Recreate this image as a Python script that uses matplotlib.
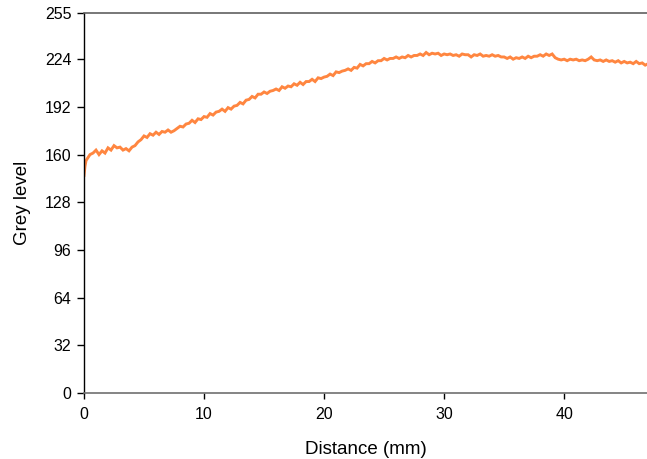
import matplotlib
matplotlib.use("Agg")
import matplotlib.pyplot as plt

plt.rcParams['font.family'] = ['Liberation Sans', 'DejaVu Sans']

distance_mm = [
    0.0, 0.08, 0.17, 0.25, 0.5, 0.75, 1.0, 1.25, 1.5, 1.75,
    2.0, 2.25, 2.5, 2.75, 3.0, 3.25, 3.5, 3.75, 4.0, 4.25,
    4.5, 4.75, 5.0, 5.25, 5.5, 5.75, 6.0, 6.25, 6.5, 6.75,
    7.0, 7.25, 7.5, 7.75, 8.0, 8.25, 8.5, 8.75, 9.0, 9.25,
    9.5, 9.75, 10.0, 10.25, 10.5, 10.75, 11.0, 11.25, 11.5, 11.75,
    12.0, 12.25, 12.5, 12.75, 13.0, 13.25, 13.5, 13.75, 14.0, 14.25,
    14.5, 14.75, 15.0, 15.25, 15.5, 15.75, 16.0, 16.25, 16.5, 16.75,
    17.0, 17.25, 17.5, 17.75, 18.0, 18.25, 18.5, 18.75, 19.0, 19.25,
    19.5, 19.75, 20.0, 20.25, 20.5, 20.75, 21.0, 21.25, 21.5, 21.75,
    22.0, 22.25, 22.5, 22.75, 23.0, 23.25, 23.5, 23.75, 24.0, 24.25,
    24.5, 24.75, 25.0, 25.25, 25.5, 25.75, 26.0, 26.25, 26.5, 26.75,
    27.0, 27.25, 27.5, 27.75, 28.0, 28.25, 28.5, 28.75, 29.0, 29.25,
    29.5, 29.75, 30.0, 30.25, 30.5, 30.75, 31.0, 31.25, 31.5, 31.75,
    32.0, 32.25, 32.5, 32.75, 33.0, 33.25, 33.5, 33.75, 34.0, 34.25,
    34.5, 34.75, 35.0, 35.25, 35.5, 35.75, 36.0, 36.25, 36.5, 36.75,
    37.0, 37.25, 37.5, 37.75, 38.0, 38.25, 38.5, 38.75, 39.0, 39.25,
    39.5, 39.75, 40.0, 40.25, 40.5, 40.75, 41.0, 41.25, 41.5, 41.75,
    42.0, 42.25, 42.5, 42.75, 43.0, 43.25, 43.5, 43.75, 44.0, 44.25,
    44.5, 44.75, 45.0, 45.25, 45.5, 45.75, 46.0, 46.25, 46.5, 46.75,
    47.0,
]

grey_level = [
    146, 152, 156, 157, 160, 161, 163, 160, 162.5, 161,
    164.5, 163, 166, 164.5, 165, 163, 164, 162.5, 165, 166,
    168.5, 170, 172.5, 171.5, 174, 173, 175, 173.5, 175.5, 175,
    176.5, 175, 176, 177.5, 179, 178.5, 180.5, 181, 183, 181.5,
    184, 183.5, 185.5, 185, 187.5, 186.5, 188.5, 189, 190.5, 189,
    191.5, 190.5, 192.5, 193, 195, 194, 196.5, 197, 199, 198,
    200.5, 200.5, 202, 201, 202.5, 203, 204, 203, 205.5, 204.5,
    206, 205.5, 207.5, 206.5, 208.5, 207, 209, 209, 210.5, 209,
    211.5, 211, 212, 212.5, 214, 213, 215.5, 215, 216, 216.5,
    217.5, 216.5, 218.5, 218, 220.5, 219.5, 221, 221, 222.5, 221.5,
    223, 223, 224.5, 223.5, 224.5, 224.5, 225.5, 224.5, 225.5, 225,
    226.5, 225.5, 226.5, 226.5, 227.5, 226.5, 228.5, 227, 228, 227.5,
    228, 226.5, 227.5, 227, 227.5, 226.5, 227, 226, 227.5, 227,
    227, 225.5, 227, 226.5, 227.5, 226, 226.5, 226, 227, 226,
    226.5, 225.5, 225.5, 224.5, 225.5, 224, 225, 224.5, 225.5, 224.5,
    226, 225, 226, 226, 227, 226, 227.5, 226.5, 227.5, 225,
    224, 223.5, 224, 223, 224, 223.5, 224, 223, 223.5, 223,
    224, 225.5, 223.5, 223, 223.5, 222.5, 223.5, 222.5, 223, 222,
    223, 221.5, 222.5, 221.5, 222, 221, 222.5, 221, 221.5, 220,
    221,
]

y_ticks = [0, 32, 64, 96, 128, 160, 192, 224, 255]
x_ticks = [0, 10, 20, 30, 40]

fig = plt.figure(figsize=(6.47, 4.59), dpi=100)
ax = fig.add_axes([84 / 647, 66 / 459, 563 / 647, 380 / 459])

ax.plot(distance_mm, grey_level, color='#FF8640', linewidth=2.1,
        solid_joinstyle='miter')

ax.set_xlim(0, 46.9)
ax.set_ylim(0, 255)
ax.set_yticks(y_ticks)
ax.set_xticks(x_ticks)

ax.spines['right'].set_visible(False)
ax.spines['top'].set_color('#606060')
ax.spines['top'].set_linewidth(1.2)
ax.spines['bottom'].set_color('#707070')
ax.spines['bottom'].set_linewidth(1.2)
ax.spines['left'].set_color('black')
ax.spines['left'].set_linewidth(1.0)

ax.tick_params(axis='both', direction='out', labelsize=11.5, colors='black')
ax.tick_params(axis='y', length=5, width=1.0, pad=4)
ax.tick_params(axis='x', length=4, width=1.0, pad=6)

ax.set_xlabel('Distance (mm)', fontsize=13.5, labelpad=14)
ax.set_ylabel('Grey level', fontsize=13.5, labelpad=10)

fig.savefig('out.png', dpi=100)
